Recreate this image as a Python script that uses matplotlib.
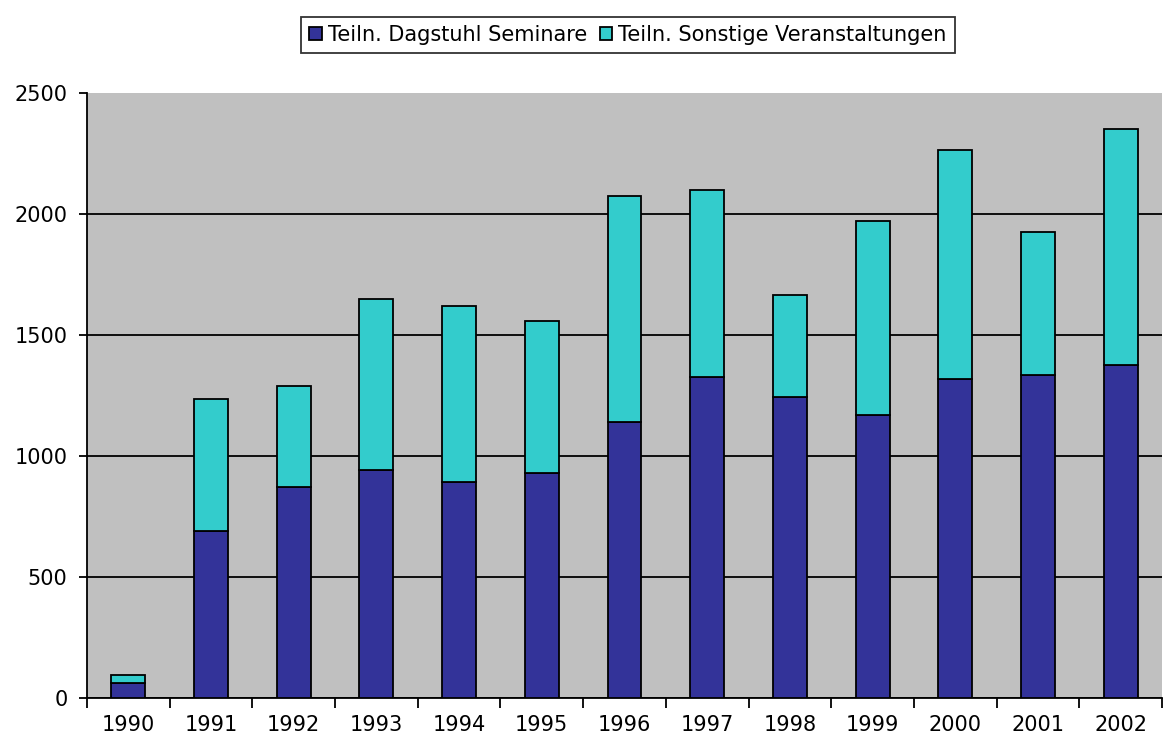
import numpy as np
import matplotlib.pyplot as plt

plt.rcParams['font.family'] = ['DejaVu Sans']

# participants per year
years = ["1990", "1991", "1992", "1993", "1994", "1995", "1996",
         "1997", "1998", "1999", "2000", "2001", "2002"]
seminare = [62, 690, 872, 942, 894, 928, 1142, 1325, 1244, 1168, 1319, 1334, 1378]
gesamt = [95, 1234, 1288, 1648, 1619, 1556, 2073, 2100, 1665, 1972, 2264, 1926, 2352]
sonstige = [g - s for g, s in zip(gesamt, seminare)]

fig = plt.figure(figsize=(11.66, 7.45), dpi=100)
ax = fig.add_axes([87/1166, 1 - 698/745, (1162 - 87)/1166, (698 - 93)/745])
ax.set_facecolor("#C0C0C0")

x = np.arange(len(years))
w = 0.41
ax.bar(x, seminare, w, color="#333399", edgecolor="black", linewidth=1.3,
       label="Teiln. Dagstuhl Seminare", zorder=3)
ax.bar(x, sonstige, w, bottom=seminare, color="#33CCCC", edgecolor="black",
       linewidth=1.3, label="Teiln. Sonstige Veranstaltungen", zorder=3)

ax.set_xlim(-0.5, len(years) - 0.5)
ax.set_ylim(0, 2500)
ax.set_yticks(range(0, 2501, 500))
ax.yaxis.grid(True, color="black", linewidth=1.3, zorder=1)
ax.get_ygridlines()[-1].set_visible(False)
ax.set_axisbelow(True)

ax.set_xticks(x)
ax.set_xticklabels(years)
ax.set_xticks(np.arange(-0.5, len(years), 1), minor=True)
ax.tick_params(axis="x", which="major", length=0, pad=12, labelsize=15)
ax.tick_params(axis="x", which="minor", length=7, width=1.3, direction="out")
ax.tick_params(axis="y", length=6, width=1.3, pad=8, labelsize=15)

for s in ["top", "right"]:
    ax.spines[s].set_visible(False)
for s in ["left", "bottom"]:
    ax.spines[s].set_linewidth(1.3)
    ax.spines[s].set_color("black")

leg = fig.legend(loc="center", bbox_to_anchor=(628/1166, 1 - 35/745), ncol=2,
                 fontsize=15, frameon=True, fancybox=False, edgecolor="black",
                 handlelength=0.6, handleheight=0.6, handletextpad=0.3,
                 columnspacing=0.6, borderpad=0.4, borderaxespad=0)
leg.get_frame().set_linewidth(1.3)

fig.savefig("out.png", dpi=100)
